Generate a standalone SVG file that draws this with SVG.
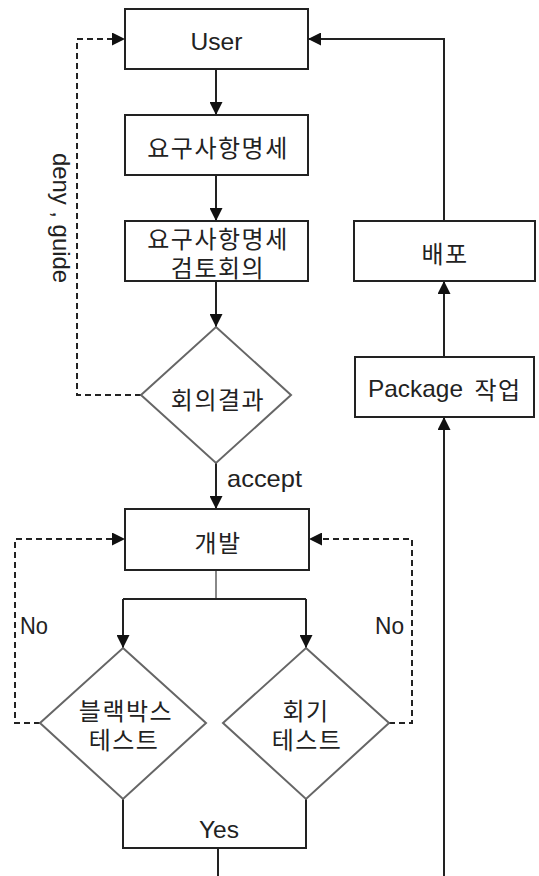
<svg xmlns="http://www.w3.org/2000/svg" width="539" height="876" viewBox="0 0 539 876">
<style>
.box{fill:#fff;stroke:#222;stroke-width:2}
.dia{fill:#fff;stroke:#666;stroke-width:2}
.ln{fill:none;stroke:#222;stroke-width:2}
.gr{fill:none;stroke:#888;stroke-width:2}
.dash{fill:none;stroke:#222;stroke-width:2;stroke-dasharray:6,4}
.ko{font-family:"Noto Sans CJK KR","Liberation Sans",sans-serif;font-size:24px;letter-spacing:1.5px;fill:#222;text-anchor:middle;dominant-baseline:central}
.en{font-family:"Liberation Sans",Arial,sans-serif;font-size:24px;fill:#222}
</style>
<defs>
<marker id="ah" markerUnits="userSpaceOnUse" markerWidth="13" markerHeight="13" refX="13" refY="6.5" orient="auto">
<path d="M0,0 L13,6.5 L0,13 z" fill="#111"/>
</marker>
</defs>
<rect width="539" height="876" fill="#fff"/>
<g id="connectors">
<path class="ln" d="M216,69 V115" marker-end="url(#ah)"/>
<path class="ln" d="M216,175 V221" marker-end="url(#ah)"/>
<path class="ln" d="M216,281 V327" marker-end="url(#ah)"/>
<path class="dash" d="M141,395 H77 V39 H125" marker-end="url(#ah)"/>
<path class="ln" d="M216,463 V509" marker-end="url(#ah)"/>
<path class="gr" d="M216,570 V599"/>
<path class="ln" d="M123,599 H306"/>
<path class="ln" d="M123,599 V648" marker-end="url(#ah)"/>
<path class="ln" d="M306,599 V648" marker-end="url(#ah)"/>
<path class="dash" d="M40,723 H15 V539 H125" marker-end="url(#ah)"/>
<path class="dash" d="M389,723 H412 V539 H309" marker-end="url(#ah)"/>
<path class="ln" d="M123,799 V848 H306 V799"/>
<path class="ln" d="M218,848 V876"/>
<path class="ln" d="M444,876 V417" marker-end="url(#ah)"/>
<path class="ln" d="M444,357 V281" marker-end="url(#ah)"/>
<path class="ln" d="M444,221 V39 H308" marker-end="url(#ah)"/>
<text class="en" transform="translate(53,218) rotate(90)" text-anchor="middle" textLength="130" lengthAdjust="spacingAndGlyphs">deny , guide</text>
<text class="en" x="227" y="487" textLength="75" lengthAdjust="spacingAndGlyphs">accept</text>
<text class="en" x="20" y="634" textLength="28" lengthAdjust="spacingAndGlyphs">No</text>
<text class="en" x="375" y="634" textLength="29" lengthAdjust="spacingAndGlyphs">No</text>
<text class="en" x="199" y="838" textLength="40" lengthAdjust="spacingAndGlyphs">Yes</text>
</g>
<g id="user">
<rect class="box" x="125" y="9" width="183" height="60"/>
<text class="en" x="216.5" y="50" text-anchor="middle" textLength="52" lengthAdjust="spacingAndGlyphs">User</text>
</g>
<g id="spec">
<rect class="box" x="125" y="115" width="183" height="60"/>
<text class="ko" x="218" y="146">요구사항명세</text>
</g>
<g id="review">
<rect class="box" x="125" y="221" width="183" height="60"/>
<text class="ko"><tspan x="218" y="236.5">요구사항명세</tspan><tspan x="218" y="265.5">검토회의</tspan></text>
</g>
<g id="result">
<polygon class="dia" points="216,327 291,395 216,463 141,395"/>
<text class="ko" x="218" y="398">회의결과</text>
</g>
<g id="dev">
<rect class="box" x="125" y="509" width="184" height="61"/>
<text class="ko" x="218" y="541">개발</text>
</g>
<g id="blackbox">
<polygon class="dia" points="123,648 206,723 123,799 40,723"/>
<text class="ko"><tspan x="126" y="709">블랙박스</tspan><tspan x="124" y="738">테스트</tspan></text>
</g>
<g id="regression">
<polygon class="dia" points="306,648 389,723 306,799 223,723"/>
<text class="ko"><tspan x="306" y="709">회기</tspan><tspan x="307" y="738">테스트</tspan></text>
</g>
<g id="deploy">
<rect class="box" x="354" y="221" width="181" height="60"/>
<text class="ko" x="445" y="252">배포</text>
</g>
<g id="package">
<rect class="box" x="355" y="357" width="179" height="60"/>
<text class="en" x="368" y="397" textLength="95" lengthAdjust="spacingAndGlyphs">Package</text>
<text class="ko" x="498" y="388">작업</text>
</g>
</svg>
